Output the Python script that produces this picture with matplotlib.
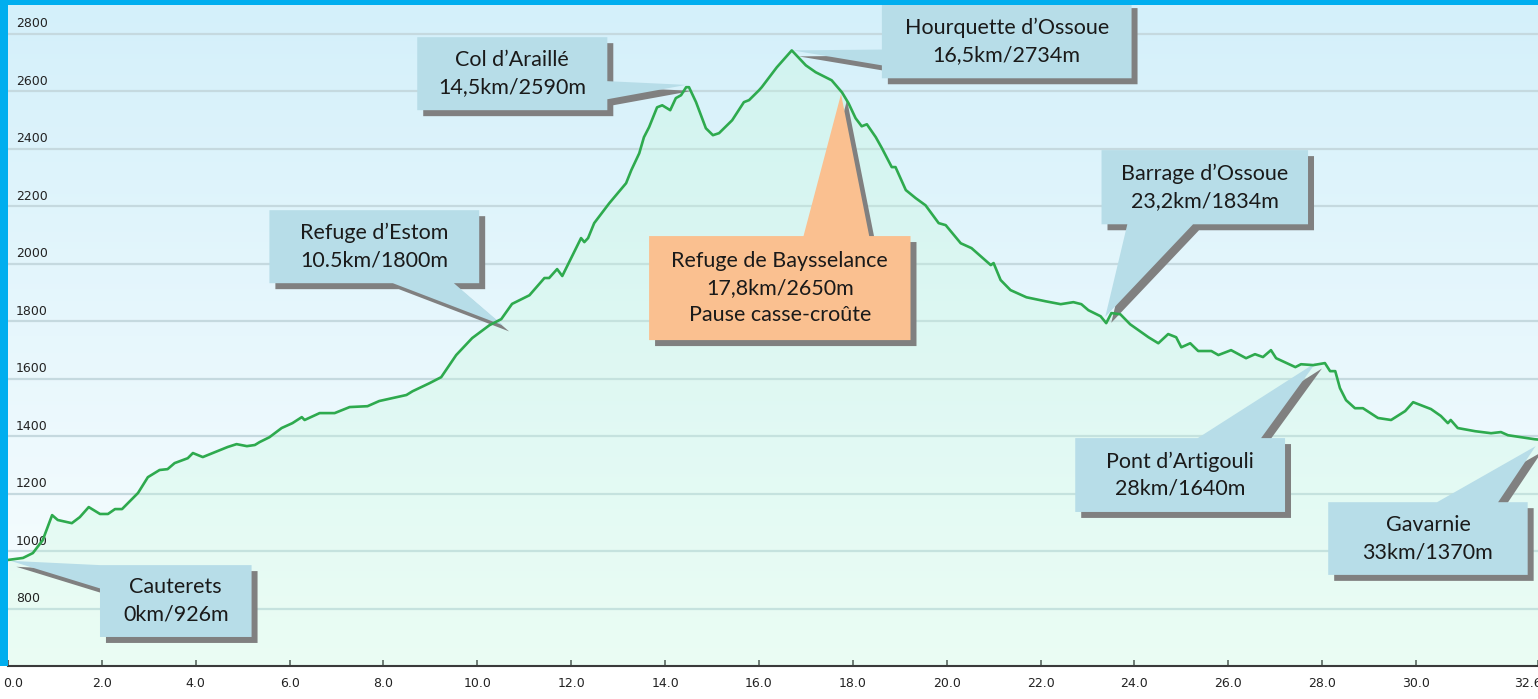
import matplotlib
matplotlib.use("Agg")
import matplotlib.pyplot as plt
import matplotlib.patheffects as pe
import matplotlib.colors as mcolors
import matplotlib.transforms as mtransforms
from matplotlib.patches import Polygon, Rectangle
import numpy as np

# elevation profile Cauterets -> Gavarnie (distance km, altitude m)
km = [0.00, 0.32, 0.53, 0.74, 0.94, 1.06, 1.36, 1.53, 1.72, 1.96, 2.13, 2.28, 2.43,
      2.77, 2.98, 3.23, 3.40, 3.55, 3.83, 3.94, 4.15, 4.36, 4.68, 4.87, 5.09, 5.26,
      5.36, 5.57, 5.83, 6.06, 6.26, 6.32, 6.64, 6.96, 7.28, 7.66, 7.91, 8.19, 8.49,
      8.62, 8.98, 9.23, 9.55, 9.89, 10.26, 10.51, 10.74, 11.11, 11.43, 11.53, 11.70,
      11.81, 12.21, 12.28, 12.36, 12.49, 12.81, 13.17, 13.28, 13.45, 13.55, 13.66,
      13.83, 13.94, 14.11, 14.23, 14.34, 14.45, 14.51, 14.66, 14.87, 15.02, 15.15,
      15.43, 15.68, 15.79, 16.00, 16.06, 16.38, 16.70, 17.00, 17.21, 17.55, 17.77,
      17.91, 18.06, 18.19, 18.30, 18.49, 18.62, 18.83, 18.91, 19.13, 19.34, 19.55,
      19.83, 19.98, 20.30, 20.53, 20.94, 21.00, 21.15, 21.36, 21.70, 22.11, 22.43,
      22.70, 22.87, 23.02, 23.28, 23.40, 23.51, 23.70, 23.91, 24.30, 24.51, 24.72,
      24.89, 25.00, 25.19, 25.36, 25.64, 25.79, 26.06, 26.38, 26.57, 26.74, 26.91,
      27.02, 27.43, 27.55, 27.81, 28.06, 28.17, 28.28, 28.38, 28.51, 28.70, 28.87,
      29.19, 29.47, 29.77, 29.94, 30.32, 30.53, 30.68, 30.74, 30.89, 31.26, 31.60,
      31.81, 31.96, 32.53, 32.60]
elev = [969, 976, 993, 1038, 1125, 1108, 1097, 1118, 1153, 1129, 1129, 1146, 1146,
        1202, 1257, 1282, 1285, 1306, 1323, 1341, 1327, 1341, 1362, 1372, 1365, 1369,
        1379, 1396, 1428, 1445, 1466, 1456, 1480, 1480, 1501, 1504, 1522, 1532, 1543,
        1556, 1584, 1605, 1682, 1741, 1786, 1807, 1860, 1890, 1950, 1950, 1981,
        1957, 2089, 2075, 2089, 2141, 2210, 2280, 2325, 2384, 2440, 2475,
        2544, 2551, 2534, 2576, 2586, 2614, 2614, 2562, 2471, 2447, 2454,
        2499, 2562, 2569, 2603, 2614, 2683, 2742, 2690, 2666, 2638, 2596,
        2558, 2506, 2478, 2485, 2440, 2402, 2336, 2336, 2256, 2228, 2203,
        2141, 2134, 2071, 2054, 1995, 2002, 1943, 1908, 1883, 1869, 1859,
        1866, 1859, 1838, 1817, 1793, 1828, 1824, 1789, 1744, 1723, 1755,
        1744, 1709, 1723, 1696, 1696, 1682, 1699, 1671, 1685, 1675, 1699,
        1671, 1640, 1650, 1647, 1654, 1626, 1626, 1567, 1525, 1497, 1497,
        1463, 1456, 1487, 1518, 1494, 1470, 1445, 1456, 1428, 1417, 1410,
        1414, 1403, 1389, 1388]

xticks = [0, 2, 4, 6, 8, 10, 12, 14, 16, 18, 20, 22, 24, 26, 28, 30, 32.6]
yticks = [800, 1000, 1200, 1400, 1600, 1800, 2000, 2200, 2400, 2600, 2800]

BLUE = "#b7dde8"
ORANGE = "#fac090"

# text, box (x0, y0, x1, y1), side of the pointer, pointer base, pointer tip
callouts = [
    ("Cauterets\n0km/926m", (1.96, 701, 5.19, 951), "left", (951, 870), (0.05, 966), BLUE),
    ("Refuge d’Estom\n10.5km/1800m", (5.57, 1932, 10.04, 2186), "bottom", (8.2, 9.5), (10.55, 1785), BLUE),
    ("Col d’Araillé\n14,5km/2590m", (8.72, 2534, 12.77, 2788), "right", (2572, 2635), (14.45, 2622), BLUE),
    ("Hourquette d’Ossoue\n16,5km/2734m", (18.62, 2645, 23.94, 2910), "left", (2745, 2690), (16.72, 2742), BLUE),
    ("Refuge de Baysselance\n17,8km/2650m\nPause casse-croûte", (13.66, 1734, 19.23, 2096), "top", (16.95, 18.35), (17.75, 2590), ORANGE),
    ("Barrage d’Ossoue\n23,2km/1834m", (23.30, 2137, 27.70, 2395), "bottom", (23.85, 25.25), (23.38, 1815), BLUE),
    ("Pont d’Artigouli\n28km/1640m", (22.74, 1136, 27.21, 1393), "top", (25.35, 26.70), (27.87, 1656), BLUE),
    ("Gavarnie\n33km/1370m", (28.13, 917, 32.38, 1170), "top", (30.45, 31.75), (32.55, 1365), BLUE),
]


def callout_shape(box, side, base, tip):
    x0, y0, x1, y1 = box
    a, b = min(base), max(base)
    if side == "left":
        return [(x0, y1), (x1, y1), (x1, y0), (x0, y0), (x0, a), tip, (x0, b)]
    if side == "right":
        return [(x0, y1), (x1, y1), (x1, b), tip, (x1, a), (x1, y0), (x0, y0)]
    if side == "top":
        return [(x0, y1), (a, y1), tip, (b, y1), (x1, y1), (x1, y0), (x0, y0)]
    return [(x0, y1), (x1, y1), (x1, y0), (b, y0), tip, (a, y0), (x0, y0)]


fig = plt.figure(figsize=(15.38, 6.99), dpi=100, facecolor="white")
ax = fig.add_axes([8 / 1538, 33 / 699, 1530 / 1538, 661 / 699])

# sky gradient
cmap = mcolors.LinearSegmentedColormap.from_list("sky", ["#fafeff", "#d4f0fa"])
grad = np.linspace(0, 1, 256)[:, None]
ax.imshow(grad, extent=[0, 32.6, 600, 2900], origin="lower", aspect="auto",
          cmap=cmap, zorder=0)

ax.fill_between(km, elev, 600, color="#c8fadc", alpha=0.3, lw=0, zorder=2)
ax.plot(km, elev, color="#2eaa4e", lw=1.9, zorder=6)

ax.set_xlim(0, 32.6)
ax.set_ylim(600, 2900)

ax.set_yticks(yticks)
ax.yaxis.grid(True, color="#c5d9df", lw=1.6, zorder=1)
ax.set_axisbelow(True)
ax.tick_params(axis="y", length=0, labelleft=False)
for v in yticks:
    ax.annotate(str(v), xy=(0, v), xycoords=("axes fraction", "data"),
                xytext=(5.5, 2.5), textcoords="offset points",
                ha="left", va="bottom", fontsize=9, color="#222222", zorder=3)

ax.set_xticks(xticks, labels=["%.1f" % t for t in xticks])
ax.tick_params(axis="x", direction="in", length=4, width=1.3, color="#3a3a3a",
               labelsize=9, labelcolor="#222222", pad=8)
# keep the end labels inside the frame, like the original
labels = ax.get_xticklabels()
labels[0].set_transform(labels[0].get_transform() +
                        mtransforms.ScaledTranslation(5 / 100, 0, fig.dpi_scale_trans))
labels[-1].set_transform(labels[-1].get_transform() +
                         mtransforms.ScaledTranslation(-10 / 100, 0, fig.dpi_scale_trans))
for s in ["top", "left", "right"]:
    ax.spines[s].set_visible(False)
ax.spines["bottom"].set_color("#3a3a3a")
ax.spines["bottom"].set_linewidth(1.5)

shadow = [pe.SimplePatchShadow(offset=(4.3, -4.3), shadow_rgbFace="#808080", alpha=1.0),
          pe.Normal()]
for text, box, side, base, tip, col in callouts:
    poly = Polygon(callout_shape(box, side, base, tip), closed=True, fc=col,
                   ec="none", zorder=5, clip_on=False, path_effects=shadow)
    ax.add_patch(poly)
    ax.text((box[0] + box[2]) / 2, (box[1] + min(box[3], 2899)) / 2, text,
            ha="center", va="center", fontsize=15.5, linespacing=1.45,
            family=["Lato", "DejaVu Sans"], color="#1a1a1a", zorder=7)

# blue frame
fig.add_artist(Rectangle((0, 1 - 5 / 699), 1, 5 / 699, transform=fig.transFigure,
                         fc="#00aeef", ec="none", zorder=10))
fig.add_artist(Rectangle((0, 33 / 699), 8 / 1538, 1, transform=fig.transFigure,
                         fc="#00aeef", ec="none", zorder=10))

fig.savefig("out.png", dpi=100)
